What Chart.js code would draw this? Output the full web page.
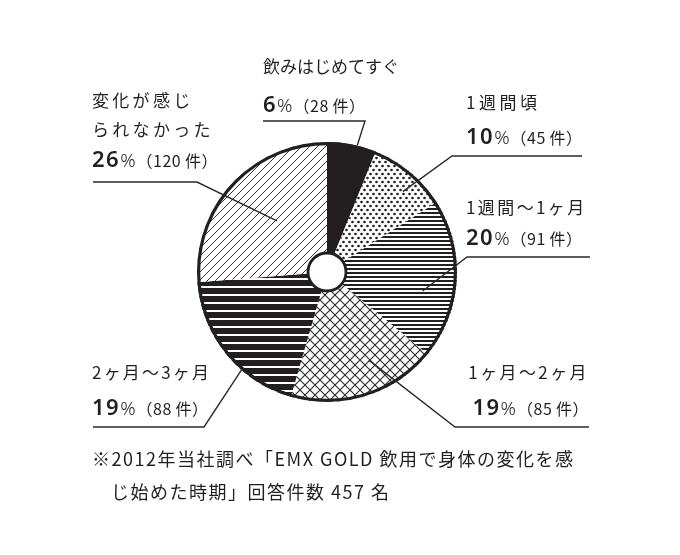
<!DOCTYPE html>
<html lang="ja">
<head>
<meta charset="utf-8">
<script src="https://cdn.jsdelivr.net/npm/chart.js@4/dist/chart.umd.min.js"></script>
<style>
  html, body { margin:0; padding:0; background:#fff; }
  #wrap { position:relative; width:680px; height:555px; overflow:hidden; background:#fff; }
  #c { position:absolute; left:0; top:0; }
  .lbl { position:absolute; white-space:nowrap; color:#231f20;
         font-family:"Noto Sans CJK JP","Noto Sans",sans-serif; font-size:17px; line-height:22px;
         transform:translateY(-50%); }
  .pct { font-family:"Noto Sans","Noto Sans CJK JP",sans-serif; font-weight:600; font-size:22px; letter-spacing:1.5px; }
  .pct small { font-size:19px; font-weight:300; letter-spacing:0; }
  .cnt { font-size:16px; letter-spacing:0.5px; margin-left:1px; }
  .note { position:absolute; white-space:nowrap; color:#231f20; letter-spacing:1.5px;
          font-family:"Noto Sans CJK JP",sans-serif; font-size:18px; line-height:22px; transform:translateY(-50%); }
</style>
</head>
<body>
<div id="wrap">
  <canvas id="c" width="680" height="555"></canvas>
</div>
<script>
// ---- data ----
const categories = ['飲みはじめてすぐ', '1週間頃', '1週間〜1ヶ月', '1ヶ月〜2ヶ月', '2ヶ月〜3ヶ月', '変化が感じられなかった'];
const categoryLines = [['飲みはじめてすぐ'], ['1週間頃'], ['1週間〜1ヶ月'], ['1ヶ月〜2ヶ月'], ['2ヶ月〜3ヶ月'], ['変化が感じ', 'られなかった']];
const counts = [28, 45, 91, 85, 88, 120];
const percents = [6, 10, 20, 19, 19, 26];
const footnote = ['※2012年当社調べ「EMX GOLD 飲用で身体の変化を感', 'じ始めた時期」回答件数 457 名'];

// ---- patterns ----
function tile(w, h, draw) {
  const c = document.createElement('canvas');
  c.width = w; c.height = h;
  const g = c.getContext('2d');
  g.fillStyle = '#fff'; g.fillRect(0, 0, w, h);
  draw(g);
  return document.getElementById('c').getContext('2d').createPattern(c, 'repeat');
}
const INK = '#231f20';
const patSolid = INK;
const patDots = tile(6, 8, g => {
  g.fillStyle = INK;
  g.beginPath(); g.arc(1.5, 2, 1.35, 0, Math.PI * 2); g.fill();
  g.beginPath(); g.arc(4.5, 6, 1.35, 0, Math.PI * 2); g.fill();
});
const patHLines = tile(8, 4, g => { g.fillStyle = INK; g.fillRect(0, 0, 8, 2); });
const patCross = tile(10, 10, g => {
  g.strokeStyle = '#2a2a2a'; g.lineWidth = 1.1;
  g.beginPath();
  g.moveTo(0, 0); g.lineTo(10, 10);
  g.moveTo(10, 0); g.lineTo(0, 10);
  g.stroke();
});
const patThick = tile(8, 8, g => { g.fillStyle = INK; g.fillRect(0, 0, 8, 6); });
const patDiag = tile(8, 8, g => {
  g.strokeStyle = '#333'; g.lineWidth = 1;
  g.beginPath();
  g.moveTo(-1, 9); g.lineTo(9, -1);
  g.moveTo(-1, 1); g.lineTo(1, -1);
  g.moveTo(7, 9); g.lineTo(9, 7);
  g.stroke();
});
const fills = [patSolid, patDots, patHLines, patCross, patThick, patDiag];

// ---- label layout (style) ----
const layout = [
  { x: 263, align: 'left', ys: [66], pctY: 104, leader: [[263, 121], [365, 121]], t: 0.61, f: 1.0, ls: 0 },
  { x: 466, align: 'left', ys: [102], pctY: 136, leader: [[582, 156], [452, 156]], t: 0.6, f: 0.85, ls: 3.5 },
  { x: 466, align: 'left', ys: [207], pctY: 237, leader: [[590, 257], [467, 257]], t: 0.61, f: 0.75, ls: 2.4 },
  { x: 589, align: 'right', ys: [372], pctY: 407, leader: [[589, 427], [455, 427]], t: 0.38, f: 0.75, ls: 2.4 },
  { x: 92, align: 'left', ys: [372], pctY: 407, leader: [[93, 427], [204, 427]], t: 0.36, f: 1.0, ls: 2.2 },
  { x: 92, align: 'left', ys: [100, 129], pctY: 159, leader: [[93, 182], [197, 182]], t: 0.53, f: 0.55, ls: 3.3 }
];

const wrap = document.getElementById('wrap');
function addDiv(cls, html, x, y, align, ls) {
  const d = document.createElement('div');
  d.className = cls;
  d.innerHTML = html;
  if (ls !== undefined) d.style.letterSpacing = ls + 'px';
  d.style.top = y + 'px';
  if (align === 'right') d.style.right = (680 - x) + 'px'; else d.style.left = x + 'px';
  wrap.appendChild(d);
}
categories.forEach((cat, i) => {
  const L = layout[i];
  categoryLines[i].forEach((line, k) => addDiv('lbl', line, L.x, L.ys[k], L.align, L.ls));
  addDiv('lbl', '<span class="pct">' + percents[i] + '<small>%</small></span><span class="cnt">（' + counts[i] + '\u2009件）</span>', L.x, L.pctY, L.align);
});
addDiv('note', footnote[0], 92, 458, 'left');
addDiv('note', footnote[1], 111, 491, 'left');

// ---- plugin: outline, hole, leaders ----
const decor = {
  id: 'decor',
  afterDatasetsDraw(chart) {
    const ctx = chart.ctx;
    const meta = chart.getDatasetMeta(0);
    const a0 = meta.data[0];
    const cx = a0.x, cy = a0.y, R = a0.outerRadius, r = a0.innerRadius;
    ctx.save();
    ctx.strokeStyle = INK;
    ctx.lineWidth = 3.2;
    ctx.beginPath(); ctx.arc(cx, cy, R - 1.6, 0, Math.PI * 2); ctx.stroke();
    ctx.fillStyle = '#fff';
    ctx.beginPath(); ctx.arc(cx, cy, r, 0, Math.PI * 2); ctx.fill();
    ctx.lineWidth = 2.8;
    ctx.beginPath(); ctx.arc(cx, cy, r, 0, Math.PI * 2); ctx.stroke();
    ctx.lineWidth = 1.4;
    ctx.strokeStyle = '#2a2a2a';
    meta.data.forEach((arc, i) => {
      const L = layout[i];
      const ang = arc.startAngle + L.t * (arc.endAngle - arc.startAngle);
      const px = cx + Math.cos(ang) * R * L.f;
      const py = cy + Math.sin(ang) * R * L.f;
      ctx.beginPath();
      ctx.moveTo(L.leader[0][0], L.leader[0][1]);
      ctx.lineTo(L.leader[1][0], L.leader[1][1]);
      ctx.lineTo(px, py);
      ctx.stroke();
    });
    ctx.restore();
  }
};

new Chart(document.getElementById('c'), {
  type: 'doughnut',
  data: {
    labels: categories,
    datasets: [{
      data: counts,
      backgroundColor: fills,
      borderWidth: 0,
      hoverOffset: 0
    }]
  },
  options: {
    responsive: false,
    animation: false,
    devicePixelRatio: 1,
    cutout: 19,
    layout: { padding: { left: 197, right: 223, top: 142, bottom: 153 } },
    plugins: { legend: { display: false }, tooltip: { enabled: false } },
    events: []
  },
  plugins: [decor]
});
</script>
</body>
</html>
